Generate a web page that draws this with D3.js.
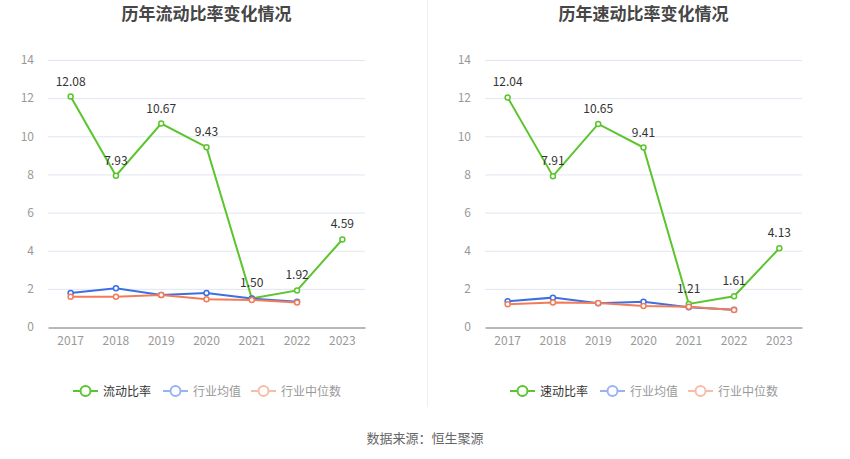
<!DOCTYPE html>
<html>
<head>
<meta charset="utf-8">
<script src="https://cdn.jsdelivr.net/npm/d3@7"></script>
<style>
  body { margin: 0; background: #fff; }
  text { font-family: "Noto Sans CJK SC", "Noto Sans", sans-serif; }
</style>
</head>
<body>
<div id="vis"></div>
<script>
// chart data
const years = ["2017", "2018", "2019", "2020", "2021", "2022", "2023"];
const yTicks = [0, 2, 4, 6, 8, 10, 12, 14];

const currentRatio = [12.08, 7.93, 10.67, 9.43, 1.50, 1.92, 4.59];
const currentMean = [1.78, 2.03, 1.68, 1.78, 1.49, 1.33];
const currentMedian = [1.59, 1.59, 1.68, 1.45, 1.42, 1.28];

const quickRatio = [12.04, 7.91, 10.65, 9.41, 1.21, 1.61, 4.13];
const quickMean = [1.35, 1.54, 1.24, 1.33, 1.03, 0.91];
const quickMedian = [1.19, 1.28, 1.26, 1.10, 1.06, 0.89];

const WIDTH = 850;
const HEIGHT = 459;
const GREEN = "#5cc42d";
const BLUE = "#3c6fe3";
const ORANGE = "#f27c58";

const svg = d3.select("#vis")
  .append("svg")
    .attr("width", WIDTH)
    .attr("height", HEIGHT);

// divider between the two panels
svg.append("line")
  .attr("x1", 427.5).attr("x2", 427.5)
  .attr("y1", 0).attr("y2", 407)
  .attr("stroke", "#eeeeee");

svg.append("text")
  .attr("x", WIDTH / 2)
  .attr("y", 443)
  .attr("text-anchor", "middle")
  .attr("font-size", 13)
  .attr("fill", "#666")
  .text("数据来源：恒生聚源");

function drawPanel(offsetX, title, mainName, main, mean, median) {
  const left = offsetX + 48, right = offsetX + 365;
  const top = 60, bottom = 327;

  const X_SCALE = d3.scaleBand().domain(years).range([left, right]);
  const Y_SCALE = d3.scaleLinear().domain([0, 14]).range([bottom, top]);
  const xc = (i) => X_SCALE(years[i]) + X_SCALE.bandwidth() / 2;

  const g = svg.append("g");

  g.append("text")
    .attr("x", (left + right) / 2)
    .attr("y", 20)
    .attr("text-anchor", "middle")
    .attr("font-size", 17)
    .attr("font-weight", "bold")
    .attr("fill", "#464646")
    .text(title);

  // gridlines
  g.selectAll(".grid")
    .data(yTicks.filter(d => d > 0))
    .enter()
    .append("line")
      .attr("x1", left).attr("x2", right)
      .attr("y1", d => Y_SCALE(d) + 0.5).attr("y2", d => Y_SCALE(d) + 0.5)
      .attr("stroke", "#e0e6f1");

  // y axis labels
  const yAxis = d3.axisLeft(Y_SCALE).tickValues(yTicks).tickSize(0).tickPadding(14);
  const ya = g.append("g").attr("transform", `translate(${left},0)`).call(yAxis);
  ya.select(".domain").remove();
  ya.selectAll("text").attr("fill", "#999").attr("font-size", 12);

  // x axis
  const xAxis = d3.axisBottom(X_SCALE).tickSize(0).tickPadding(9);
  const xa = g.append("g").attr("transform", `translate(0,${bottom + 0.5})`).call(xAxis);
  xa.select(".domain").attr("stroke", "#6e7079");
  xa.selectAll("text").attr("fill", "#999").attr("font-size", 12);

  const line = d3.line().x((d, i) => xc(i)).y(d => Y_SCALE(d));

  const series = [
    {values: main, color: GREEN},
    {values: mean, color: BLUE},
    {values: median, color: ORANGE}
  ];

  series.forEach(s => {
    g.append("path")
      .datum(s.values)
      .attr("d", line)
      .attr("fill", "none")
      .attr("stroke", s.color)
      .attr("stroke-width", 2);
    g.selectAll(null)
      .data(s.values)
      .enter()
      .append("circle")
        .attr("cx", (d, i) => xc(i))
        .attr("cy", d => Y_SCALE(d))
        .attr("r", 2.5)
        .attr("fill", "#fff")
        .attr("stroke", s.color)
        .attr("stroke-width", 1.5);
  });

  // value labels on the main series
  g.selectAll(null)
    .data(main)
    .enter()
    .append("text")
      .attr("x", (d, i) => xc(i))
      .attr("y", d => Y_SCALE(d) - 11)
      .attr("text-anchor", "middle")
      .attr("font-size", 12)
      .attr("fill", "#333")
      .text(d => d.toFixed(2));

  // legend
  const legend = [
    {name: mainName, color: GREEN, text: "#333", x: offsetX + 73},
    {name: "行业均值", color: "#97b4f1", text: "#999", x: offsetX + 163},
    {name: "行业中位数", color: "#f8bca8", text: "#999", x: offsetX + 251}
  ];
  legend.forEach(l => {
    g.append("line")
      .attr("x1", l.x).attr("x2", l.x + 25)
      .attr("y1", 391).attr("y2", 391)
      .attr("stroke", l.color).attr("stroke-width", 2);
    g.append("circle")
      .attr("cx", l.x + 12.5).attr("cy", 391).attr("r", 5)
      .attr("fill", "#fff").attr("stroke", l.color).attr("stroke-width", 2);
    g.append("text")
      .attr("x", l.x + 30).attr("y", 395.5)
      .attr("font-size", 12)
      .attr("fill", l.text)
      .text(l.name);
  });
}

drawPanel(0, "历年流动比率变化情况", "流动比率", currentRatio, currentMean, currentMedian);
drawPanel(437, "历年速动比率变化情况", "速动比率", quickRatio, quickMean, quickMedian);
</script>
</body>
</html>
